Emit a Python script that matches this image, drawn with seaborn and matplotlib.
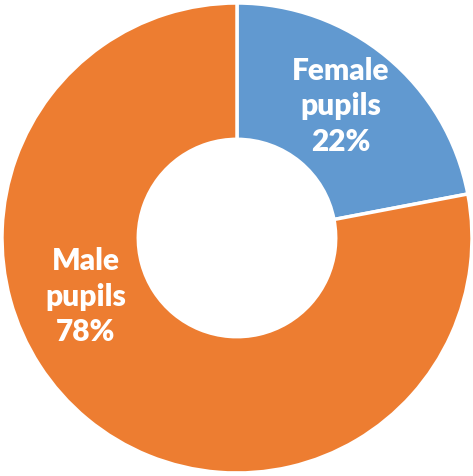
import matplotlib
matplotlib.use("Agg")
import matplotlib.pyplot as plt
import seaborn as sns

# data
groups = ["Female\npupils", "Male\npupils"]
shares = [22, 78]
colors = ["#6199D0", "#ED7D31"]

sns.set_style("white")
plt.rcParams['font.family'] = ['Lato', 'DejaVu Sans']

fig = plt.figure(figsize=(4.73, 4.76), dpi=100)
ax = fig.add_axes([0, 0, 1, 1])

wedges, _ = ax.pie(shares, colors=colors, startangle=90, counterclock=False,
                   radius=1.0, wedgeprops=dict(width=0.58, edgecolor="white", linewidth=2.5))

# label placement (px, converted to data units)
label_pos = [(0.44, 0.56), (-0.645, -0.25)]
for name, val, (x, y) in zip(groups, shares, label_pos):
    ax.text(x, y, f"{name}\n{val}%", ha="center", va="center", color="white",
            fontsize=21.5, fontweight="heavy", linespacing=1.32)

ax.set_aspect("equal")
ax.set_xlim(-237 / 235, (473 - 237) / 235)
ax.set_ylim(-238 / 235, (476 - 238) / 235)
ax.axis("off")

fig.savefig("out.png", dpi=100)
